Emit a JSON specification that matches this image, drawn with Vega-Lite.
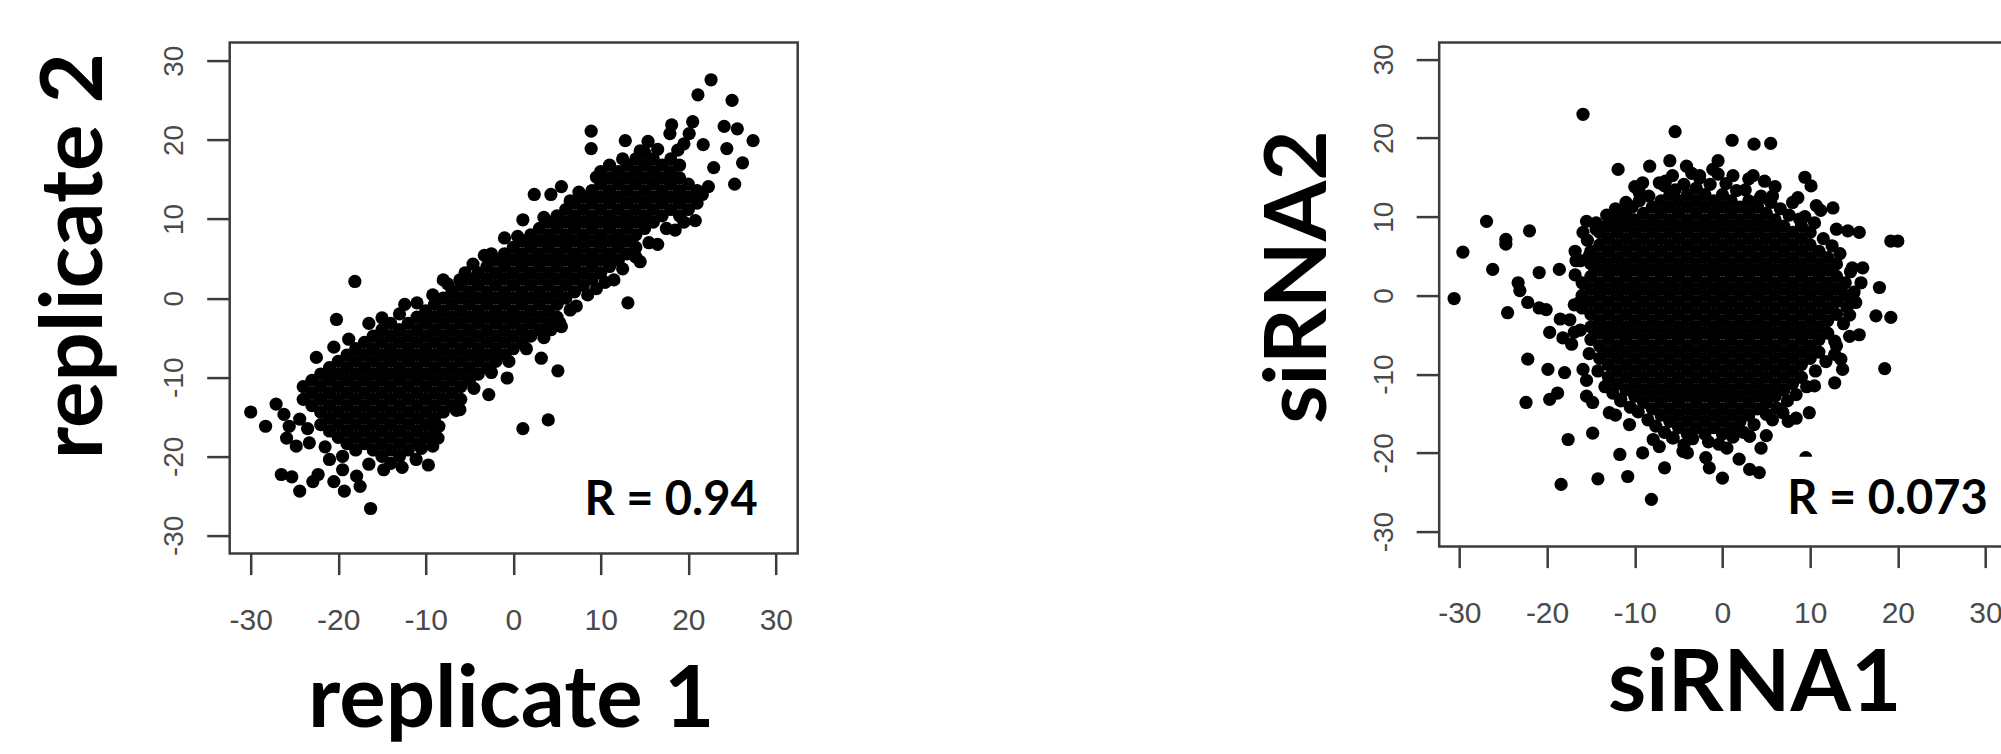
{
"$schema": "https://vega.github.io/schema/vega-lite/v6.json",
"background": "white",
"padding": {"left": 29.7, "top": 40.6, "right": 0, "bottom": 0},
"spacing": 453.5,
"config": {
  "font": "Liberation Sans",
  "axis": {"grid": false, "labelFont": "Liberation Sans", "labelFontSize": 28, "labelColor": "#4a4a4a", "tickColor": "#3c3c3c", "tickWidth": 2.5, "domain": false, "titleFont": "Lato", "titleFontWeight": "bold", "titleFontSize": 87, "titleColor": "black", "labelOverlap": false},
  "axisX": {"tickSize": 21, "labelPadding": 55, "labelFontSize": 30, "labelBaseline": "alphabetic", "labelAngle": 0, "labelAlign": "center"},
  "axisY": {"tickSize": 23, "labelPadding": 24, "labelAngle": 270, "labelAlign": "center", "labelBaseline": "alphabetic"}
},
"datasets": {
"r1": [{"x": 8.14, "y": -27.4, "label": "R = 0.94"}],
"r2": [{"x": 7.4, "y": -27.8, "label": "R = 0.073"}],
"cover": [{"x": 8.6, "x2": 31.6, "y": -20.5, "y2": -29.5}],
"rep": [
{"x":-24,"y":-12.8},{"x":-24,"y":-11.2},
{"x":-23,"y":-13.6},{"x":-23,"y":-12},{"x":-23,"y":-10.4},
{"x":-22,"y":-16},{"x":-22,"y":-14.4},{"x":-22,"y":-12.8},{"x":-22,"y":-11.2},{"x":-22,"y":-9.6},
{"x":-21,"y":-16.8},{"x":-21,"y":-15.2},{"x":-21,"y":-13.6},{"x":-21,"y":-12},{"x":-21,"y":-10.4},{"x":-21,"y":-8.8},
{"x":-20,"y":-17.6},{"x":-20,"y":-16},{"x":-20,"y":-14.4},{"x":-20,"y":-12.8},{"x":-20,"y":-11.2},{"x":-20,"y":-9.6},{"x":-20,"y":-8},
{"x":-19,"y":-18.4},{"x":-19,"y":-16.8},{"x":-19,"y":-15.2},{"x":-19,"y":-13.6},{"x":-19,"y":-12},{"x":-19,"y":-10.4},{"x":-19,"y":-8.8},{"x":-19,"y":-7.2},
{"x":-18,"y":-19.2},{"x":-18,"y":-17.6},{"x":-18,"y":-16},{"x":-18,"y":-14.4},{"x":-18,"y":-12.8},{"x":-18,"y":-11.2},{"x":-18,"y":-9.6},{"x":-18,"y":-8},{"x":-18,"y":-6.4},
{"x":-17,"y":-18.4},{"x":-17,"y":-16.8},{"x":-17,"y":-15.2},{"x":-17,"y":-13.6},{"x":-17,"y":-12},{"x":-17,"y":-10.4},{"x":-17,"y":-8.8},{"x":-17,"y":-7.2},{"x":-17,"y":-5.6},
{"x":-16,"y":-19.2},{"x":-16,"y":-17.6},{"x":-16,"y":-16},{"x":-16,"y":-14.4},{"x":-16,"y":-12.8},{"x":-16,"y":-11.2},{"x":-16,"y":-9.6},{"x":-16,"y":-8},{"x":-16,"y":-6.4},{"x":-16,"y":-4.8},
{"x":-15,"y":-20},{"x":-15,"y":-18.4},{"x":-15,"y":-16.8},{"x":-15,"y":-15.2},{"x":-15,"y":-13.6},{"x":-15,"y":-12},{"x":-15,"y":-10.4},{"x":-15,"y":-8.8},{"x":-15,"y":-7.2},{"x":-15,"y":-5.6},{"x":-15,"y":-4},
{"x":-14,"y":-19.2},{"x":-14,"y":-17.6},{"x":-14,"y":-16},{"x":-14,"y":-14.4},{"x":-14,"y":-12.8},{"x":-14,"y":-11.2},{"x":-14,"y":-9.6},{"x":-14,"y":-8},{"x":-14,"y":-6.4},{"x":-14,"y":-4.8},{"x":-14,"y":-3.2},
{"x":-13,"y":-20},{"x":-13,"y":-18.4},{"x":-13,"y":-16.8},{"x":-13,"y":-15.2},{"x":-13,"y":-13.6},{"x":-13,"y":-12},{"x":-13,"y":-10.4},{"x":-13,"y":-8.8},{"x":-13,"y":-7.2},{"x":-13,"y":-5.6},{"x":-13,"y":-4},
{"x":-12,"y":-19.2},{"x":-12,"y":-17.6},{"x":-12,"y":-16},{"x":-12,"y":-14.4},{"x":-12,"y":-12.8},{"x":-12,"y":-11.2},{"x":-12,"y":-9.6},{"x":-12,"y":-8},{"x":-12,"y":-6.4},{"x":-12,"y":-4.8},{"x":-12,"y":-3.2},
{"x":-11,"y":-18.4},{"x":-11,"y":-16.8},{"x":-11,"y":-15.2},{"x":-11,"y":-13.6},{"x":-11,"y":-12},{"x":-11,"y":-10.4},{"x":-11,"y":-8.8},{"x":-11,"y":-7.2},{"x":-11,"y":-5.6},{"x":-11,"y":-4},{"x":-11,"y":-2.4},
{"x":-10,"y":-17.6},{"x":-10,"y":-16},{"x":-10,"y":-14.4},{"x":-10,"y":-12.8},{"x":-10,"y":-11.2},{"x":-10,"y":-9.6},{"x":-10,"y":-8},{"x":-10,"y":-6.4},{"x":-10,"y":-4.8},{"x":-10,"y":-3.2},{"x":-10,"y":-1.6},
{"x":-9,"y":-16.8},{"x":-9,"y":-15.2},{"x":-9,"y":-13.6},{"x":-9,"y":-12},{"x":-9,"y":-10.4},{"x":-9,"y":-8.8},{"x":-9,"y":-7.2},{"x":-9,"y":-5.6},{"x":-9,"y":-4},{"x":-9,"y":-2.4},{"x":-9,"y":-0.8},
{"x":-8,"y":-14.4},{"x":-8,"y":-12.8},{"x":-8,"y":-11.2},{"x":-8,"y":-9.6},{"x":-8,"y":-8},{"x":-8,"y":-6.4},{"x":-8,"y":-4.8},{"x":-8,"y":-3.2},{"x":-8,"y":-1.6},{"x":-8,"y":0},
{"x":-7,"y":-13.6},{"x":-7,"y":-12},{"x":-7,"y":-10.4},{"x":-7,"y":-8.8},{"x":-7,"y":-7.2},{"x":-7,"y":-5.6},{"x":-7,"y":-4},{"x":-7,"y":-2.4},{"x":-7,"y":-0.8},{"x":-7,"y":0.8},
{"x":-6,"y":-12.8},{"x":-6,"y":-11.2},{"x":-6,"y":-9.6},{"x":-6,"y":-8},{"x":-6,"y":-6.4},{"x":-6,"y":-4.8},{"x":-6,"y":-3.2},{"x":-6,"y":-1.6},{"x":-6,"y":0},{"x":-6,"y":1.6},
{"x":-5,"y":-10.4},{"x":-5,"y":-8.8},{"x":-5,"y":-7.2},{"x":-5,"y":-5.6},{"x":-5,"y":-4},{"x":-5,"y":-2.4},{"x":-5,"y":-0.8},{"x":-5,"y":0.8},{"x":-5,"y":2.4},
{"x":-4,"y":-9.6},{"x":-4,"y":-8},{"x":-4,"y":-6.4},{"x":-4,"y":-4.8},{"x":-4,"y":-3.2},{"x":-4,"y":-1.6},{"x":-4,"y":0},{"x":-4,"y":1.6},{"x":-4,"y":3.2},
{"x":-3,"y":-8.8},{"x":-3,"y":-7.2},{"x":-3,"y":-5.6},{"x":-3,"y":-4},{"x":-3,"y":-2.4},{"x":-3,"y":-0.8},{"x":-3,"y":0.8},{"x":-3,"y":2.4},{"x":-3,"y":4},
{"x":-2,"y":-8},{"x":-2,"y":-6.4},{"x":-2,"y":-4.8},{"x":-2,"y":-3.2},{"x":-2,"y":-1.6},{"x":-2,"y":0},{"x":-2,"y":1.6},{"x":-2,"y":3.2},{"x":-2,"y":4.8},
{"x":-1,"y":-7.2},{"x":-1,"y":-5.6},{"x":-1,"y":-4},{"x":-1,"y":-2.4},{"x":-1,"y":-0.8},{"x":-1,"y":0.8},{"x":-1,"y":2.4},{"x":-1,"y":4},{"x":-1,"y":5.6},
{"x":0,"y":-6.4},{"x":0,"y":-4.8},{"x":0,"y":-3.2},{"x":0,"y":-1.6},{"x":0,"y":0},{"x":0,"y":1.6},{"x":0,"y":3.2},{"x":0,"y":4.8},{"x":0,"y":6.4},
{"x":1,"y":-5.6},{"x":1,"y":-4},{"x":1,"y":-2.4},{"x":1,"y":-0.8},{"x":1,"y":0.8},{"x":1,"y":2.4},{"x":1,"y":4},{"x":1,"y":5.6},{"x":1,"y":7.2},
{"x":2,"y":-4.8},{"x":2,"y":-3.2},{"x":2,"y":-1.6},{"x":2,"y":0},{"x":2,"y":1.6},{"x":2,"y":3.2},{"x":2,"y":4.8},{"x":2,"y":6.4},{"x":2,"y":8},
{"x":3,"y":-4},{"x":3,"y":-2.4},{"x":3,"y":-0.8},{"x":3,"y":0.8},{"x":3,"y":2.4},{"x":3,"y":4},{"x":3,"y":5.6},{"x":3,"y":7.2},{"x":3,"y":8.8},
{"x":4,"y":-3.2},{"x":4,"y":-1.6},{"x":4,"y":0},{"x":4,"y":1.6},{"x":4,"y":3.2},{"x":4,"y":4.8},{"x":4,"y":6.4},{"x":4,"y":8},{"x":4,"y":9.6},
{"x":5,"y":-2.4},{"x":5,"y":-0.8},{"x":5,"y":0.8},{"x":5,"y":2.4},{"x":5,"y":4},{"x":5,"y":5.6},{"x":5,"y":7.2},{"x":5,"y":8.8},{"x":5,"y":10.4},
{"x":6,"y":0},{"x":6,"y":1.6},{"x":6,"y":3.2},{"x":6,"y":4.8},{"x":6,"y":6.4},{"x":6,"y":8},{"x":6,"y":9.6},{"x":6,"y":11.2},
{"x":7,"y":0.8},{"x":7,"y":2.4},{"x":7,"y":4},{"x":7,"y":5.6},{"x":7,"y":7.2},{"x":7,"y":8.8},{"x":7,"y":10.4},{"x":7,"y":12},
{"x":8,"y":1.6},{"x":8,"y":3.2},{"x":8,"y":4.8},{"x":8,"y":6.4},{"x":8,"y":8},{"x":8,"y":9.6},{"x":8,"y":11.2},{"x":8,"y":12.8},
{"x":9,"y":2.4},{"x":9,"y":4},{"x":9,"y":5.6},{"x":9,"y":7.2},{"x":9,"y":8.8},{"x":9,"y":10.4},{"x":9,"y":12},{"x":9,"y":13.6},
{"x":10,"y":3.2},{"x":10,"y":4.8},{"x":10,"y":6.4},{"x":10,"y":8},{"x":10,"y":9.6},{"x":10,"y":11.2},{"x":10,"y":12.8},{"x":10,"y":14.4},{"x":10,"y":16},
{"x":11,"y":4},{"x":11,"y":5.6},{"x":11,"y":7.2},{"x":11,"y":8.8},{"x":11,"y":10.4},{"x":11,"y":12},{"x":11,"y":13.6},{"x":11,"y":15.2},{"x":11,"y":16.8},
{"x":12,"y":4.8},{"x":12,"y":6.4},{"x":12,"y":8},{"x":12,"y":9.6},{"x":12,"y":11.2},{"x":12,"y":12.8},{"x":12,"y":14.4},{"x":12,"y":16},
{"x":13,"y":5.6},{"x":13,"y":7.2},{"x":13,"y":8.8},{"x":13,"y":10.4},{"x":13,"y":12},{"x":13,"y":13.6},{"x":13,"y":15.2},{"x":13,"y":16.8},
{"x":14,"y":6.4},{"x":14,"y":8},{"x":14,"y":9.6},{"x":14,"y":11.2},{"x":14,"y":12.8},{"x":14,"y":14.4},{"x":14,"y":16},{"x":14,"y":17.6},
{"x":15,"y":8.8},{"x":15,"y":10.4},{"x":15,"y":12},{"x":15,"y":13.6},{"x":15,"y":15.2},{"x":15,"y":16.8},{"x":15,"y":18.4},
{"x":16,"y":9.6},{"x":16,"y":11.2},{"x":16,"y":12.8},{"x":16,"y":14.4},{"x":16,"y":16},{"x":16,"y":17.6},
{"x":17,"y":10.4},{"x":17,"y":12},{"x":17,"y":13.6},{"x":17,"y":15.2},{"x":17,"y":16.8},
{"x":18,"y":11.2},{"x":18,"y":12.8},{"x":18,"y":14.4},{"x":18,"y":16},{"x":18,"y":17.6},
{"x":19,"y":10.4},{"x":19,"y":12},{"x":19,"y":13.6},{"x":19,"y":15.2},{"x":19,"y":16.8},
{"x":20,"y":11.2},{"x":20,"y":12.8},{"x":20,"y":14.4},
{"x":21,"y":12},{"x":21,"y":13.6},
{"x":-22.5,"y":-7.5},{"x":-20.5,"y":-6.2},{"x":-18.8,"y":-5.2},{"x":-15,"y":-2.5},{"x":-13,"y":-2},{"x":-11,"y":-0.6},{"x":-7.5,"y":1.8},{"x":-5.5,"y":3.2},{"x":-2.5,"y":5.6},{"x":0.5,"y":7.8},{"x":3.5,"y":10.2},{"x":6.5,"y":12.3},{"x":7.5,"y":13.4},{"x":9.5,"y":15.3},{"x":12.5,"y":17.6},{"x":14.5,"y":18.6},{"x":16.5,"y":18.8},
{"x":-23.5,"y":-16.5},{"x":-21.5,"y":-18.8},{"x":-19.5,"y":-20},{"x":-16.5,"y":-21},{"x":-14,"y":-20.9},{"x":-10.5,"y":-19},{"x":-8.5,"y":-16.2},{"x":-6.5,"y":-14.2},{"x":-4.5,"y":-11.4},{"x":-2.5,"y":-9.4},{"x":-0.5,"y":-8},{"x":1.5,"y":-6.4},{"x":3.5,"y":-5},{"x":5.5,"y":-3.6},{"x":6.5,"y":-1.5},{"x":8.5,"y":0.4},{"x":10.5,"y":2},{"x":12.5,"y":3.7},{"x":14,"y":5.2},{"x":15.5,"y":7},{"x":17.5,"y":8.8},{"x":19.5,"y":9.6},
{"x":-30,"y":-14.4},{"x":-28.3,"y":-16.2},{"x":-27.1,"y":-13.4},{"x":-26.2,"y":-14.7},{"x":-25.6,"y":-16.2},{"x":-25.9,"y":-17.7},{"x":-26.5,"y":-22.3},{"x":-25.3,"y":-22.6},{"x":-24.4,"y":-24.4},{"x":-22.9,"y":-23.2},{"x":-22.3,"y":-22.3},{"x":-20.5,"y":-23.2},{"x":-19.3,"y":-24.4},{"x":-17.5,"y":-23.8},{"x":-16.3,"y":-26.6},{"x":-14.8,"y":-21.7},{"x":-12.7,"y":-21.4},{"x":-9.7,"y":-21.1},{"x":-11.1,"y":-20.4},{"x":-8.6,"y":-17.7},{"x":-9.2,"y":-18.7},{"x":-24.4,"y":-15.3},{"x":-23.3,"y":-18.3},{"x":-24.8,"y":-18.7},{"x":-21,"y":-20.4},{"x":-19.5,"y":-21.7},{"x":-17.9,"y":-22.5},
{"x":-20.2,"y":-2.7},{"x":-18.1,"y":2.1},{"x":-8,"y":2.3},{"x":-6.1,"y":2.3},{"x":-9.2,"y":0.4},{"x":-1,"y":7.6},{"x":1.1,"y":9.9},{"x":2.4,"y":13.1},{"x":4.3,"y":13.1},{"x":5.5,"y":14.1},{"x":-16.5,"y":-3.2},{"x":-12.4,"y":-0.8},{"x":-4.6,"y":4.3},{"x":-3.3,"y":5.4},
{"x":-6.1,"y":-14.1},{"x":-2.8,"y":-12.2},{"x":-0.7,"y":-10.1},{"x":1.1,"y":-16.5},{"x":4,"y":-15.4},{"x":5.1,"y":-9.2},{"x":3.2,"y":-7.6},{"x":4.3,"y":-4},{"x":5.3,"y":-3.1},{"x":7.2,"y":-1},{"x":13.1,"y":-0.6},{"x":9.5,"y":1.2},{"x":11.5,"y":2.3},{"x":14.5,"y":4.6},{"x":16.5,"y":6.8},{"x":18.5,"y":8.6},
{"x":8.9,"y":21.1},{"x":8.9,"y":18.9},{"x":12.8,"y":19.9},{"x":15.4,"y":19.8},{"x":17.9,"y":20.8},{"x":18.1,"y":21.9},{"x":20.5,"y":22.3},{"x":21.1,"y":25.7},{"x":22.6,"y":27.6},{"x":25,"y":25},{"x":24.1,"y":21.7},{"x":25.6,"y":21.4},{"x":27.4,"y":19.9},{"x":24.4,"y":18.9},{"x":26.2,"y":17.1},{"x":22.9,"y":16.5},{"x":25.3,"y":14.4},{"x":22.3,"y":14.1},{"x":21.6,"y":13.1},{"x":20.8,"y":9.8},{"x":20.1,"y":20.8},{"x":18.8,"y":18.7},{"x":21.7,"y":19.4},{"x":19.5,"y":19.5}
],
"si": [
{"x":-16,"y":-1.6},{"x":-16,"y":0},{"x":-16,"y":1.6},
{"x":-15,"y":-5.6},{"x":-15,"y":-4},{"x":-15,"y":-2.4},{"x":-15,"y":-0.8},{"x":-15,"y":0.8},{"x":-15,"y":2.4},{"x":-15,"y":4},{"x":-15,"y":5.6},
{"x":-14,"y":-8},{"x":-14,"y":-6.4},{"x":-14,"y":-4.8},{"x":-14,"y":-3.2},{"x":-14,"y":-1.6},{"x":-14,"y":0},{"x":-14,"y":1.6},{"x":-14,"y":3.2},{"x":-14,"y":4.8},{"x":-14,"y":6.4},{"x":-14,"y":8},
{"x":-13,"y":-10.4},{"x":-13,"y":-8.8},{"x":-13,"y":-7.2},{"x":-13,"y":-5.6},{"x":-13,"y":-4},{"x":-13,"y":-2.4},{"x":-13,"y":-0.8},{"x":-13,"y":0.8},{"x":-13,"y":2.4},{"x":-13,"y":4},{"x":-13,"y":5.6},{"x":-13,"y":7.2},{"x":-13,"y":8.8},
{"x":-12,"y":-11.2},{"x":-12,"y":-9.6},{"x":-12,"y":-8},{"x":-12,"y":-6.4},{"x":-12,"y":-4.8},{"x":-12,"y":-3.2},{"x":-12,"y":-1.6},{"x":-12,"y":0},{"x":-12,"y":1.6},{"x":-12,"y":3.2},{"x":-12,"y":4.8},{"x":-12,"y":6.4},{"x":-12,"y":8},{"x":-12,"y":9.6},
{"x":-11,"y":-12},{"x":-11,"y":-10.4},{"x":-11,"y":-8.8},{"x":-11,"y":-7.2},{"x":-11,"y":-5.6},{"x":-11,"y":-4},{"x":-11,"y":-2.4},{"x":-11,"y":-0.8},{"x":-11,"y":0.8},{"x":-11,"y":2.4},{"x":-11,"y":4},{"x":-11,"y":5.6},{"x":-11,"y":7.2},{"x":-11,"y":8.8},{"x":-11,"y":10.4},
{"x":-10,"y":-12.8},{"x":-10,"y":-11.2},{"x":-10,"y":-9.6},{"x":-10,"y":-8},{"x":-10,"y":-6.4},{"x":-10,"y":-4.8},{"x":-10,"y":-3.2},{"x":-10,"y":-1.6},{"x":-10,"y":0},{"x":-10,"y":1.6},{"x":-10,"y":3.2},{"x":-10,"y":4.8},{"x":-10,"y":6.4},{"x":-10,"y":8},{"x":-10,"y":9.6},
{"x":-9,"y":-13.6},{"x":-9,"y":-12},{"x":-9,"y":-10.4},{"x":-9,"y":-8.8},{"x":-9,"y":-7.2},{"x":-9,"y":-5.6},{"x":-9,"y":-4},{"x":-9,"y":-2.4},{"x":-9,"y":-0.8},{"x":-9,"y":0.8},{"x":-9,"y":2.4},{"x":-9,"y":4},{"x":-9,"y":5.6},{"x":-9,"y":7.2},{"x":-9,"y":8.8},{"x":-9,"y":10.4},
{"x":-8,"y":-14.4},{"x":-8,"y":-12.8},{"x":-8,"y":-11.2},{"x":-8,"y":-9.6},{"x":-8,"y":-8},{"x":-8,"y":-6.4},{"x":-8,"y":-4.8},{"x":-8,"y":-3.2},{"x":-8,"y":-1.6},{"x":-8,"y":0},{"x":-8,"y":1.6},{"x":-8,"y":3.2},{"x":-8,"y":4.8},{"x":-8,"y":6.4},{"x":-8,"y":8},{"x":-8,"y":9.6},{"x":-8,"y":11.2},
{"x":-7,"y":-15.2},{"x":-7,"y":-13.6},{"x":-7,"y":-12},{"x":-7,"y":-10.4},{"x":-7,"y":-8.8},{"x":-7,"y":-7.2},{"x":-7,"y":-5.6},{"x":-7,"y":-4},{"x":-7,"y":-2.4},{"x":-7,"y":-0.8},{"x":-7,"y":0.8},{"x":-7,"y":2.4},{"x":-7,"y":4},{"x":-7,"y":5.6},{"x":-7,"y":7.2},{"x":-7,"y":8.8},{"x":-7,"y":10.4},{"x":-7,"y":12},
{"x":-6,"y":-16},{"x":-6,"y":-14.4},{"x":-6,"y":-12.8},{"x":-6,"y":-11.2},{"x":-6,"y":-9.6},{"x":-6,"y":-8},{"x":-6,"y":-6.4},{"x":-6,"y":-4.8},{"x":-6,"y":-3.2},{"x":-6,"y":-1.6},{"x":-6,"y":0},{"x":-6,"y":1.6},{"x":-6,"y":3.2},{"x":-6,"y":4.8},{"x":-6,"y":6.4},{"x":-6,"y":8},{"x":-6,"y":9.6},{"x":-6,"y":11.2},{"x":-6,"y":12.8},
{"x":-5,"y":-16.8},{"x":-5,"y":-15.2},{"x":-5,"y":-13.6},{"x":-5,"y":-12},{"x":-5,"y":-10.4},{"x":-5,"y":-8.8},{"x":-5,"y":-7.2},{"x":-5,"y":-5.6},{"x":-5,"y":-4},{"x":-5,"y":-2.4},{"x":-5,"y":-0.8},{"x":-5,"y":0.8},{"x":-5,"y":2.4},{"x":-5,"y":4},{"x":-5,"y":5.6},{"x":-5,"y":7.2},{"x":-5,"y":8.8},{"x":-5,"y":10.4},{"x":-5,"y":12},
{"x":-4,"y":-17.6},{"x":-4,"y":-16},{"x":-4,"y":-14.4},{"x":-4,"y":-12.8},{"x":-4,"y":-11.2},{"x":-4,"y":-9.6},{"x":-4,"y":-8},{"x":-4,"y":-6.4},{"x":-4,"y":-4.8},{"x":-4,"y":-3.2},{"x":-4,"y":-1.6},{"x":-4,"y":0},{"x":-4,"y":1.6},{"x":-4,"y":3.2},{"x":-4,"y":4.8},{"x":-4,"y":6.4},{"x":-4,"y":8},{"x":-4,"y":9.6},{"x":-4,"y":11.2},{"x":-4,"y":12.8},
{"x":-3,"y":-16.8},{"x":-3,"y":-15.2},{"x":-3,"y":-13.6},{"x":-3,"y":-12},{"x":-3,"y":-10.4},{"x":-3,"y":-8.8},{"x":-3,"y":-7.2},{"x":-3,"y":-5.6},{"x":-3,"y":-4},{"x":-3,"y":-2.4},{"x":-3,"y":-0.8},{"x":-3,"y":0.8},{"x":-3,"y":2.4},{"x":-3,"y":4},{"x":-3,"y":5.6},{"x":-3,"y":7.2},{"x":-3,"y":8.8},{"x":-3,"y":10.4},{"x":-3,"y":12},{"x":-3,"y":13.6},
{"x":-2,"y":-17.6},{"x":-2,"y":-16},{"x":-2,"y":-14.4},{"x":-2,"y":-12.8},{"x":-2,"y":-11.2},{"x":-2,"y":-9.6},{"x":-2,"y":-8},{"x":-2,"y":-6.4},{"x":-2,"y":-4.8},{"x":-2,"y":-3.2},{"x":-2,"y":-1.6},{"x":-2,"y":0},{"x":-2,"y":1.6},{"x":-2,"y":3.2},{"x":-2,"y":4.8},{"x":-2,"y":6.4},{"x":-2,"y":8},{"x":-2,"y":9.6},{"x":-2,"y":11.2},{"x":-2,"y":12.8},
{"x":-1,"y":-16.8},{"x":-1,"y":-15.2},{"x":-1,"y":-13.6},{"x":-1,"y":-12},{"x":-1,"y":-10.4},{"x":-1,"y":-8.8},{"x":-1,"y":-7.2},{"x":-1,"y":-5.6},{"x":-1,"y":-4},{"x":-1,"y":-2.4},{"x":-1,"y":-0.8},{"x":-1,"y":0.8},{"x":-1,"y":2.4},{"x":-1,"y":4},{"x":-1,"y":5.6},{"x":-1,"y":7.2},{"x":-1,"y":8.8},{"x":-1,"y":10.4},{"x":-1,"y":12},
{"x":0,"y":-17.6},{"x":0,"y":-16},{"x":0,"y":-14.4},{"x":0,"y":-12.8},{"x":0,"y":-11.2},{"x":0,"y":-9.6},{"x":0,"y":-8},{"x":0,"y":-6.4},{"x":0,"y":-4.8},{"x":0,"y":-3.2},{"x":0,"y":-1.6},{"x":0,"y":0},{"x":0,"y":1.6},{"x":0,"y":3.2},{"x":0,"y":4.8},{"x":0,"y":6.4},{"x":0,"y":8},{"x":0,"y":9.6},{"x":0,"y":11.2},{"x":0,"y":12.8},
{"x":1,"y":-16.8},{"x":1,"y":-15.2},{"x":1,"y":-13.6},{"x":1,"y":-12},{"x":1,"y":-10.4},{"x":1,"y":-8.8},{"x":1,"y":-7.2},{"x":1,"y":-5.6},{"x":1,"y":-4},{"x":1,"y":-2.4},{"x":1,"y":-0.8},{"x":1,"y":0.8},{"x":1,"y":2.4},{"x":1,"y":4},{"x":1,"y":5.6},{"x":1,"y":7.2},{"x":1,"y":8.8},{"x":1,"y":10.4},{"x":1,"y":12},
{"x":2,"y":-16},{"x":2,"y":-14.4},{"x":2,"y":-12.8},{"x":2,"y":-11.2},{"x":2,"y":-9.6},{"x":2,"y":-8},{"x":2,"y":-6.4},{"x":2,"y":-4.8},{"x":2,"y":-3.2},{"x":2,"y":-1.6},{"x":2,"y":0},{"x":2,"y":1.6},{"x":2,"y":3.2},{"x":2,"y":4.8},{"x":2,"y":6.4},{"x":2,"y":8},{"x":2,"y":9.6},{"x":2,"y":11.2},
{"x":3,"y":-15.2},{"x":3,"y":-13.6},{"x":3,"y":-12},{"x":3,"y":-10.4},{"x":3,"y":-8.8},{"x":3,"y":-7.2},{"x":3,"y":-5.6},{"x":3,"y":-4},{"x":3,"y":-2.4},{"x":3,"y":-0.8},{"x":3,"y":0.8},{"x":3,"y":2.4},{"x":3,"y":4},{"x":3,"y":5.6},{"x":3,"y":7.2},{"x":3,"y":8.8},{"x":3,"y":10.4},{"x":3,"y":12},
{"x":4,"y":-14.4},{"x":4,"y":-12.8},{"x":4,"y":-11.2},{"x":4,"y":-9.6},{"x":4,"y":-8},{"x":4,"y":-6.4},{"x":4,"y":-4.8},{"x":4,"y":-3.2},{"x":4,"y":-1.6},{"x":4,"y":0},{"x":4,"y":1.6},{"x":4,"y":3.2},{"x":4,"y":4.8},{"x":4,"y":6.4},{"x":4,"y":8},{"x":4,"y":9.6},{"x":4,"y":11.2},
{"x":5,"y":-13.6},{"x":5,"y":-12},{"x":5,"y":-10.4},{"x":5,"y":-8.8},{"x":5,"y":-7.2},{"x":5,"y":-5.6},{"x":5,"y":-4},{"x":5,"y":-2.4},{"x":5,"y":-0.8},{"x":5,"y":0.8},{"x":5,"y":2.4},{"x":5,"y":4},{"x":5,"y":5.6},{"x":5,"y":7.2},{"x":5,"y":8.8},{"x":5,"y":10.4},
{"x":6,"y":-12.8},{"x":6,"y":-11.2},{"x":6,"y":-9.6},{"x":6,"y":-8},{"x":6,"y":-6.4},{"x":6,"y":-4.8},{"x":6,"y":-3.2},{"x":6,"y":-1.6},{"x":6,"y":0},{"x":6,"y":1.6},{"x":6,"y":3.2},{"x":6,"y":4.8},{"x":6,"y":6.4},{"x":6,"y":8},{"x":6,"y":9.6},
{"x":7,"y":-12},{"x":7,"y":-10.4},{"x":7,"y":-8.8},{"x":7,"y":-7.2},{"x":7,"y":-5.6},{"x":7,"y":-4},{"x":7,"y":-2.4},{"x":7,"y":-0.8},{"x":7,"y":0.8},{"x":7,"y":2.4},{"x":7,"y":4},{"x":7,"y":5.6},{"x":7,"y":7.2},{"x":7,"y":8.8},
{"x":8,"y":-11.2},{"x":8,"y":-9.6},{"x":8,"y":-8},{"x":8,"y":-6.4},{"x":8,"y":-4.8},{"x":8,"y":-3.2},{"x":8,"y":-1.6},{"x":8,"y":0},{"x":8,"y":1.6},{"x":8,"y":3.2},{"x":8,"y":4.8},{"x":8,"y":6.4},{"x":8,"y":8},
{"x":9,"y":-10.4},{"x":9,"y":-8.8},{"x":9,"y":-7.2},{"x":9,"y":-5.6},{"x":9,"y":-4},{"x":9,"y":-2.4},{"x":9,"y":-0.8},{"x":9,"y":0.8},{"x":9,"y":2.4},{"x":9,"y":4},{"x":9,"y":5.6},{"x":9,"y":7.2},{"x":9,"y":8.8},
{"x":10,"y":-8},{"x":10,"y":-6.4},{"x":10,"y":-4.8},{"x":10,"y":-3.2},{"x":10,"y":-1.6},{"x":10,"y":0},{"x":10,"y":1.6},{"x":10,"y":3.2},{"x":10,"y":4.8},{"x":10,"y":6.4},{"x":10,"y":8},
{"x":11,"y":-7.2},{"x":11,"y":-5.6},{"x":11,"y":-4},{"x":11,"y":-2.4},{"x":11,"y":-0.8},{"x":11,"y":0.8},{"x":11,"y":2.4},{"x":11,"y":4},{"x":11,"y":5.6},
{"x":12,"y":-4.8},{"x":12,"y":-3.2},{"x":12,"y":-1.6},{"x":12,"y":0},{"x":12,"y":1.6},{"x":12,"y":3.2},{"x":12,"y":4.8},
{"x":13,"y":-2.4},{"x":13,"y":-0.8},{"x":13,"y":0.8},{"x":13,"y":2.4},{"x":13,"y":4},
{"x":14,"y":0},{"x":14,"y":1.6},
{"x":-9.5,"y":12},{"x":-8.4,"y":12.6},{"x":-6.6,"y":13.9},{"x":-5.4,"y":13.4},{"x":-4.4,"y":14.1},{"x":-2.6,"y":14.9},{"x":-1.4,"y":14.1},{"x":0.4,"y":14.2},{"x":1.6,"y":13.3},{"x":2.6,"y":13.4},{"x":4.4,"y":12.6},{"x":5.5,"y":11.8},{"x":6.6,"y":11},{"x":7.6,"y":10.2},{"x":9.4,"y":10},{"x":10.5,"y":9.2},{"x":11.5,"y":7.2},{"x":12.5,"y":6.3},{"x":13.4,"y":5.3},
{"x":14.6,"y":3},{"x":15,"y":0.4},{"x":14.2,"y":-1.5},{"x":13.8,"y":-3.6},{"x":12.8,"y":-5.8},{"x":11.8,"y":-8.4},{"x":10.6,"y":-9.6},{"x":9.6,"y":-11.6},{"x":8.4,"y":-12.6},{"x":7.4,"y":-13.4},{"x":6.2,"y":-14.3},{"x":5,"y":-15.1},{"x":3.6,"y":-16.4},{"x":2.4,"y":-17.4},{"x":1.2,"y":-18},{"x":-0.4,"y":-18.9},{"x":-1.6,"y":-18.6},{"x":-3.4,"y":-18.2},{"x":-4.4,"y":-19},{"x":-5.6,"y":-18.1},{"x":-6.6,"y":-17.4},{"x":-7.6,"y":-16.6},{"x":-8.5,"y":-15.8},{"x":-9.6,"y":-14.8},{"x":-10.5,"y":-14.2},{"x":-11.6,"y":-13.4},{"x":-12.5,"y":-12.4},{"x":-13.4,"y":-11.6},{"x":-14.2,"y":-9.6},{"x":-15.2,"y":-7.4},{"x":-16.2,"y":-4.4},{"x":-16.9,"y":-1.2},{"x":-16.8,"y":2.6},{"x":-16.2,"y":4.4},{"x":-15.4,"y":7},{"x":-14.4,"y":9.2},{"x":-13.2,"y":10.2},{"x":-12.2,"y":11},{"x":-11,"y":11.8},{"x":-10.3,"y":11.2},
{"x":-10,"y":13.8},{"x":-16.8,"y":5.6},{"x":-18.5,"y":-3},{"x":-17.2,"y":-6.2},{"x":-15.5,"y":-10.8},{"x":-12.2,"y":-15.2},{"x":-7.2,"y":-19.2},{"x":-4.5,"y":-19.8},{"x":0.5,"y":-19.4},{"x":5,"y":-17.8},{"x":7.5,"y":-16},{"x":10.5,"y":-11.5},{"x":12.8,"y":-7.5},{"x":14.5,"y":-2.5},{"x":14.8,"y":3.5},{"x":13,"y":8.4},{"x":11.2,"y":10.8},{"x":8.6,"y":12.4},{"x":6,"y":13.8},{"x":3,"y":14.8},{"x":-0.5,"y":15.4},{"x":-3.5,"y":15.5},{"x":-6.5,"y":14.5},
{"x":-15.9,"y":23},{"x":-5.4,"y":20.8},{"x":1.1,"y":19.7},{"x":3.6,"y":19.2},{"x":5.5,"y":19.3},{"x":-11.9,"y":16},{"x":-8.3,"y":16.4},{"x":-6,"y":17.1},{"x":-4.1,"y":16.4},{"x":-0.5,"y":17.1},{"x":1.2,"y":15.2},{"x":3.5,"y":15.2},{"x":4.8,"y":14.5},{"x":9.4,"y":15},{"x":10.1,"y":13.9},{"x":-9.1,"y":14.3},{"x":-9.5,"y":13.1},
{"x":-26.9,"y":9.4},{"x":-22,"y":8.2},{"x":-24.7,"y":7.1},{"x":-24.7,"y":6.5},{"x":-29.6,"y":5.5},{"x":-26.2,"y":3.3},{"x":-30.6,"y":-0.4},{"x":-23.3,"y":1.6},{"x":-23.1,"y":0.6},{"x":-20.9,"y":2.9},{"x":-18.6,"y":3.3},{"x":-16.7,"y":4.4},{"x":-15.5,"y":9.4},{"x":-15.9,"y":8},{"x":-22.2,"y":-0.9},{"x":-20.9,"y":-1.6},{"x":-20.1,"y":-1.8},{"x":-24.5,"y":-2.2},{"x":-19.7,"y":-4.7},{"x":-18.2,"y":-5.4},{"x":-16.9,"y":-4.7},{"x":-22.2,"y":-8.1},{"x":-19.9,"y":-9.4},{"x":-18,"y":-9.8},{"x":-15.9,"y":-9.4},{"x":-22.4,"y":-13.6},{"x":-19.7,"y":-13.2},{"x":-18.8,"y":-12.4},{"x":-15.5,"y":-12.8},{"x":-14.8,"y":-13.6},{"x":-17.6,"y":-18.3},{"x":-14.8,"y":-17.5},{"x":-12.9,"y":-14.9},{"x":-10.6,"y":-16.4},{"x":-11.6,"y":-13.2},{"x":-11.7,"y":-20.2},{"x":-9.1,"y":-20},{"x":-18.4,"y":-24},{"x":-14.2,"y":-23.3},{"x":-10.8,"y":-23},{"x":-8.1,"y":-25.9},{"x":-6.6,"y":-21.9},{"x":-4,"y":-20},{"x":-1.5,"y":-21.9},{"x":0,"y":-23.2},{"x":1.9,"y":-20.8},{"x":3.1,"y":-22.1},{"x":4.2,"y":-22.5},{"x":4.4,"y":-19.4},
{"x":6.9,"y":-14.9},{"x":9.9,"y":-14.9},{"x":8.4,"y":-15.6},{"x":9.5,"y":-20.6},{"x":12.8,"y":-11.1},{"x":13.7,"y":-9.4},{"x":18.5,"y":-9.3},{"x":14.5,"y":-5.2},{"x":15.6,"y":-5},{"x":17.5,"y":-2.6},{"x":19.2,"y":-2.8},{"x":17.9,"y":1},{"x":16,"y":3.5},{"x":15.8,"y":1.6},{"x":14.9,"y":-0.5},{"x":15.2,"y":-0.9},{"x":20,"y":6.9},{"x":19.2,"y":6.9},{"x":15.6,"y":8},{"x":14.3,"y":8.2},{"x":12.6,"y":11.1},{"x":10.7,"y":11.4},{"x":8.8,"y":9.7},{"x":13.5,"y":-8.1},{"x":13,"y":-6.4},{"x":3.1,"y":-17.9},{"x":1.2,"y":-17},{"x":-1.9,"y":-20.6},{"x":-5.7,"y":-18.1},{"x":-7.9,"y":-18.3},{"x":5.7,"y":-15.8},{"x":-16.3,"y":-0.9},{"x":-17.4,"y":-3.1},{"x":-15.2,"y":5},{"x":-14.4,"y":8.4},{"x":-13.3,"y":8.8},{"x":-11.4,"y":10.1},{"x":-7.2,"y":14.3},{"x":-5.7,"y":15.2},{"x":-2.6,"y":15.2},{"x":-1.1,"y":16},{"x":4.2,"y":12.2},{"x":5.7,"y":12.6},{"x":8,"y":11.8}
]
},
"hconcat": [
{
  "width": 568, "height": 511,
  "view": {"stroke": "#3c3c3c", "strokeWidth": 2.5},
  "encoding": {
    "x": {"field": "x", "type": "quantitative", "scale": {"domain": [-32.4, 32.5], "nice": false, "zero": false},
          "axis": {"values": [-30,-20,-10,0,10,20,30], "labelExpr": "'' + datum.value", "title": "replicate 1", "titleX": 281, "titleY": 173, "titleAlign": "center", "titleBaseline": "alphabetic"}},
    "y": {"field": "y", "type": "quantitative", "scale": {"domain": [-32.3, 32.3], "nice": false, "zero": false},
          "axis": {"values": [-30,-20,-10,0,10,20,30], "labelExpr": "'' + datum.value", "title": "replicate 2", "titleX": -128, "titleY": 213, "titleAngle": 270, "titleAlign": "center", "titleBaseline": "alphabetic"}}
  },
  "layer": [
    {"data": {"name": "rep"}, "mark": {"type": "circle", "size": 175, "color": "black", "opacity": 1}},
    {"data": {"name": "r1"}, "mark": {"type": "text", "font": "Lato", "fontWeight": "bold", "fontSize": 47, "align": "left", "baseline": "alphabetic", "color": "black"},
     "encoding": {"text": {"field": "label"}}}
  ]
},
{
  "width": 566, "height": 504,
  "view": {"stroke": "#3c3c3c", "strokeWidth": 2.5},
  "encoding": {
    "x": {"field": "x", "type": "quantitative", "scale": {"domain": [-32.3, 32.24], "nice": false, "zero": false},
          "axis": {"values": [-30,-20,-10,0,10,20,30], "labelExpr": "'' + datum.value", "title": "siRNA1", "titleX": 315, "titleY": 164, "titleAlign": "center", "titleBaseline": "alphabetic"}},
    "y": {"field": "y", "type": "quantitative", "scale": {"domain": [-31.9, 32.1], "nice": false, "zero": false},
          "axis": {"values": [-30,-20,-10,0,10,20,30], "labelExpr": "'' + datum.value", "title": "siRNA2", "titleX": -114, "titleY": 234, "titleAngle": 270, "titleAlign": "center", "titleBaseline": "alphabetic"}}
  },
  "layer": [
    {"data": {"name": "si"}, "mark": {"type": "circle", "size": 175, "color": "black", "opacity": 1}},
    {"data": {"name": "cover"}, "mark": {"type": "rect", "color": "white", "opacity": 1},
     "encoding": {"x2": {"field": "x2"}, "y2": {"field": "y2"}}},
    {"data": {"name": "r2"}, "mark": {"type": "text", "font": "Lato", "fontWeight": "bold", "fontSize": 47, "align": "left", "baseline": "alphabetic", "color": "black"},
     "encoding": {"text": {"field": "label"}}}
  ]
}
]
}
